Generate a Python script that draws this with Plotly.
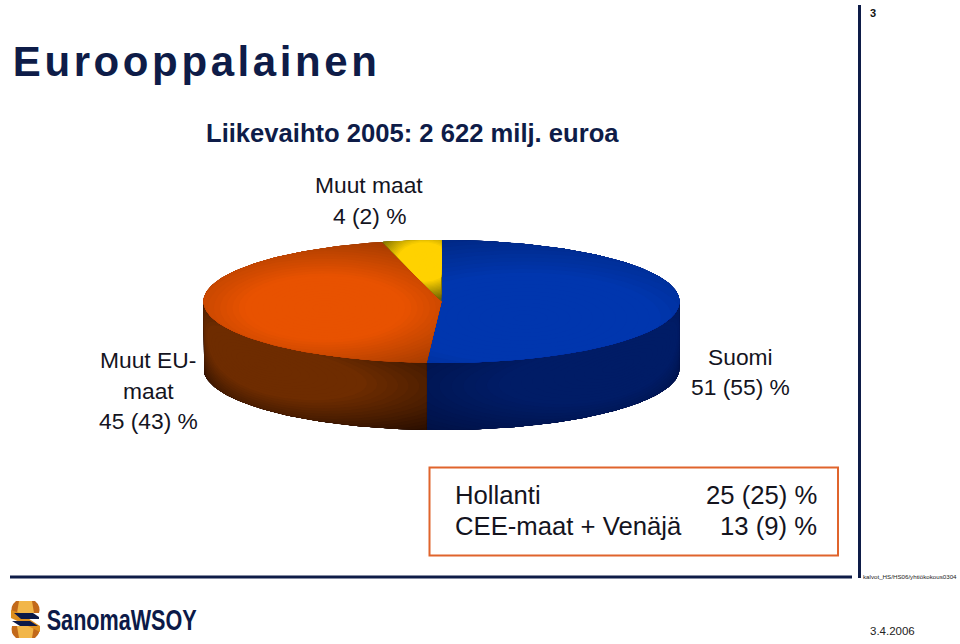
import math
import plotly.graph_objects as go

# ---- data ----
slice_names = ["Suomi", "Muut EU-maat", "Muut maat"]
slice_shares = [51, 45, 4]

title_text = "Eurooppalainen"
subtitle_text = "Liikevaihto 2005: 2 622 milj. euroa"
label_muut = ["Muut maat", "4 (2) %"]
label_eu = ["Muut EU-", "maat", "45 (43) %"]
label_suomi = ["Suomi", "51 (55) %"]
box_names = ["Hollanti", "CEE-maat + Venäjä"]
box_values = ["25 (25) %", "13 (9) %"]
page_number = "3"
file_note = "kalvot_HS/HS06/yhtiökokous0304"
date_text = "3.4.2006"
logo_text = "SanomaWSOY"

# ---- styling ----
face_style = [
    dict(edge="#001f68", mid="#0036ae", focus=(525, 318), stretch=3.0, reach=340, plateau=0.4),
    dict(edge="#a03a00", mid="#e85200", focus=(325, 308), stretch=2.5, reach=185, plateau=0.45),
    dict(edge="#6e6400", mid="#ffd200", focus=(424, 262), stretch=1.4, reach=55, plateau=0.5),
]
wall_style = [
    dict(edge="#000d3a", mid="#001c66", focus=(2.3, 0.35), reach=1.5),
    dict(edge="#180700", mid="#6e2c00", focus=(4.0, 0.35), reach=1.35),
]

NAVY = "#0e1c48"
FONT = "Liberation Sans, Arial, sans-serif"
CX, CY, RX, RY, DEPTH = 441.5, 301.5, 238, 61.5, 67
STEPS = 30


def hex2rgb(h):
    return [int(h[i:i + 2], 16) for i in (1, 3, 5)]


def mix(a, b, t):
    ca, cb = hex2rgb(a), hex2rgb(b)
    return "rgb(%d,%d,%d)" % tuple(round(x + (y - x) * t) for x, y in zip(ca, cb))


def screen(theta, z=0.0):
    return CX + RX * math.sin(theta), CY - RY * math.cos(theta) + z * DEPTH


fig = go.Figure()


def add_poly(pts, color):
    fig.add_trace(go.Scatter(x=[p[0] for p in pts], y=[p[1] for p in pts], mode="lines", fill="toself",
                             fillcolor=color, line=dict(width=0, color=color), hoverinfo="skip", showlegend=False))


def clamp(outline, focus, yscale, radius):
    out = []
    for u, v in outline:
        du, dv = u - focus[0], (v - focus[1]) * yscale
        d = math.hypot(du, dv)
        if d > radius and d > 0:
            u, v = focus[0] + du * radius / d, focus[1] + dv / yscale * radius / d
        out.append((u, v))
    return out


def segment(p, q, n=40):
    return [(p[0] + (q[0] - p[0]) * j / n, p[1] + (q[1] - p[1]) * j / n) for j in range(n)]


total = sum(slice_shares)
extents = []
acc = 0
for v in slice_shares:
    a0 = acc / total * 2 * math.pi
    acc += v
    extents.append((a0, acc / total * 2 * math.pi))

# side wall (drawn in angle/height space, then mapped to the page)
for i, (a0, a1) in enumerate(extents[:2]):
    st = wall_style[i]
    lo, hi = max(a0, math.pi / 2), min(a1, 3 * math.pi / 2)
    corners = [(lo, 0.0), (hi, 0.0), (hi, 1.0), (lo, 1.0), (lo, 0.0)]
    outline = []
    for p, q in zip(corners, corners[1:]):
        outline += segment(p, q, 60)
    outline.append(corners[0])
    add_poly([screen(u, z) for u, z in outline], st["edge"])
    for s in range(STEPS):
        k = 1 - s / STEPS
        poly = clamp(outline, st["focus"], 1.3, st["reach"] * k)
        add_poly([screen(u, z) for u, z in poly], mix(st["edge"], st["mid"], min(1, (s / STEPS) / 0.6)))

# top face
for i, (a0, a1) in enumerate(extents):
    st = face_style[i]
    n = 160
    arc = [screen(a0 + (a1 - a0) * j / n) for j in range(n + 1)]
    outline = segment((CX, CY), arc[0]) + arc + segment(arc[-1], (CX, CY)) + [(CX, CY)]
    add_poly(outline, st["edge"])
    for s in range(STEPS):
        k = 1 - s / STEPS
        poly = clamp(outline, st["focus"], st["stretch"], st["reach"] * k)
        add_poly(poly, mix(st["edge"], st["mid"], min(1, (s / STEPS) / (1 - st["plateau"]))))

annotations = []


def text(x, y, t, size, anchor="left", color="#14141e", bold=False, family=FONT):
    annotations.append(dict(x=x, y=y, xref="x", yref="y", text=("<b>%s</b>" % t) if bold else t,
                            showarrow=False, xanchor=anchor, yanchor="middle",
                            font=dict(size=size, color=color, family=family), borderpad=0))


text(196, 61, title_text, 42, "center", color=NAVY, bold=True)
text(205, 133, subtitle_text, 25.6, color=NAVY, bold=True)
for t, y in zip(label_muut, [185, 216]):
    text(369, y, t, 22.8, "center")
for t, y in zip(label_eu, [360, 391, 421]):
    text(148, y, t, 22.8, "center")
for t, y in zip(label_suomi, [357, 387]):
    text(740.5, y, t, 22.8, "center")
for t, v, y in zip(box_names, box_values, [495, 526]):
    text(453.5, y, t, 25.7)
    text(817.5, y, v, 25.7, "right")
text(869, 13, page_number, 11, bold=True, color="#111")
text(910, 576, file_note, 6.2, "center", color="#222")
text(869, 631, date_text, 11.5, color="#222")
text(121, 620, logo_text, 29, "center", color="#0c1a48", bold=True)

GOLD, LIGHT, COPPER = "#dc8f20", "#f2b648", "#c2691a"
shapes = [
    dict(type="rect", x0=429.5, y0=467.5, x1=838, y1=555.5, line=dict(color="#e0642c", width=2), fillcolor="rgba(0,0,0,0)"),
    dict(type="line", x0=859.5, y0=5, x1=859.5, y1=578, line=dict(color=NAVY, width=3)),
    dict(type="line", x0=10, y0=577, x1=852, y1=577, line=dict(color=NAVY, width=3)),
    # emblem: two curved gold bands joined by a diagonal ribbon
    dict(type="path", path="M16,601 L35,601 Q41,606 39,613 L12,613 Q10,606 16,601 Z", fillcolor=COPPER, line=dict(width=0)),
    dict(type="path", path="M16,638 L35,638 Q41,633 39,626 L12,626 Q10,633 16,638 Z", fillcolor=COPPER, line=dict(width=0)),
    dict(type="path", path="M19,601 L32,601 L34,613 L17,613 Z", fillcolor=LIGHT, line=dict(width=0)),
    dict(type="path", path="M19,638 L32,638 L34,626 L17,626 Z", fillcolor=LIGHT, line=dict(width=0)),
    dict(type="path", path="M11,610 L20,613 L40,626 L40,632 L30,627 L11,618 Z", fillcolor=GOLD, line=dict(width=0)),
    dict(type="path", path="M14,613 L33,613 L39,617 L39,619 L21,619 Z", fillcolor="#0c1a48", line=dict(width=0)),
    dict(type="path", path="M12,621 L30,621 L38,626 L20,626 Z", fillcolor="#0c1a48", line=dict(width=0)),
]

fig.update_layout(
    width=960, height=644, margin=dict(l=0, r=0, t=0, b=0), paper_bgcolor="white", plot_bgcolor="white",
    showlegend=False, annotations=annotations, shapes=shapes,
    xaxis=dict(range=[0, 960], visible=False, fixedrange=True),
    yaxis=dict(range=[644, 0], visible=False, fixedrange=True),
)

page_js = """
document.body.style.margin='0';
document.documentElement.style.overflow='hidden';
document.querySelectorAll('.annotation-text').forEach(function(n){
  if(n.textContent==='Eurooppalainen'){n.style.letterSpacing='3.6px';}
  if(n.textContent==='SanomaWSOY'){n.setAttribute('textLength','150');n.setAttribute('lengthAdjust','spacingAndGlyphs');}
});
"""
fig.write_html("out.html", config={"displayModeBar": False}, post_script=page_js)
